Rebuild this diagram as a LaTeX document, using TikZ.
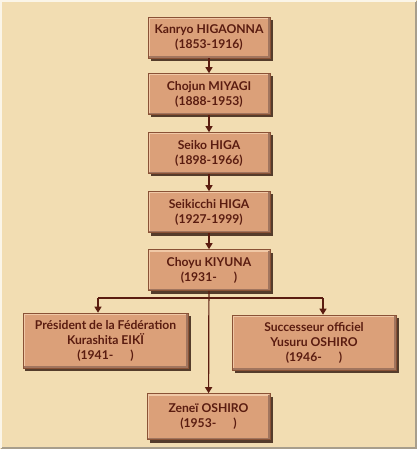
\documentclass[tikz,border=0pt]{standalone}
\usepackage{fontspec}
\setmainfont{Lato}
\usetikzlibrary{shadows,arrows.meta}
\definecolor{fondpapier}{HTML}{F2DDB2}
\definecolor{cadregris}{HTML}{A89E8C}
\definecolor{boxfill}{HTML}{DBA079}
\definecolor{boxlight}{HTML}{F0C8A6}
\definecolor{boxdark}{HTML}{8A5236}
\definecolor{inkbrown}{HTML}{5A1C10}
\definecolor{shadowbrown}{HTML}{3A2014}

\tikzset{
  maitre/.style={rectangle, fill=boxfill, draw=boxdark, line width=0.6bp,
    minimum width=122bp, minimum height=41bp, inner sep=2bp, align=center,
    text=inkbrown, font=\bfseries\fontsize{12.2}{15}\selectfont,
    drop shadow={shadow xshift=2.5bp, shadow yshift=-3bp, fill=shadowbrown, opacity=0.85},
    path picture={
      \draw[boxlight, line width=2bp]
        ([xshift=1bp,yshift=1bp]path picture bounding box.south west)
        |- ([xshift=-1bp,yshift=-1bp]path picture bounding box.north east);
      \draw[boxdark!80, line width=1.5bp]
        ([xshift=1bp,yshift=1bp]path picture bounding box.south west)
        -| ([xshift=-1bp,yshift=-1bp]path picture bounding box.north east);
    }},
  filiation/.style={draw=inkbrown, line width=1.2bp, -{Triangle[length=6bp,width=7bp]}},
  trait/.style={draw=inkbrown, line width=1.2bp}
}

\begin{document}
\begin{tikzpicture}[x=1bp, y=-1bp]
  % Fond
  \useasboundingbox (0,0) rectangle (417,449);
  \fill[fondpapier] (0,0) rectangle (417,449);
  \draw[cadregris, line width=2bp] (1,448) -- (416,448) -- (416,1);
  \draw[white!70!fondpapier, line width=1.5bp] (1,448) -- (1,1) -- (416,1);

  % Lignee principale
  \node[maitre] (higaonna) at (209,37.5) {Kanryo HIGAONNA\\(1853-1916)};
  \node[maitre] (miyagi) at (209,94) {Chojun MIYAGI\\(1888-1953)};
  \node[maitre] (seiko) at (209,153) {Seiko HIGA\\(1898-1966)};
  \node[maitre] (seikicchi) at (209,212) {Seikicchi HIGA\\(1927-1999)};
  \node[maitre] (kiyuna) at (209,270) {Choyu KIYUNA\\(1931-\hspace{1.4em})};

  % Successeurs
  \node[maitre, minimum width=165bp, minimum height=55bp] (eiki) at (105.5,340.5)
    {Président de la Fédération\\Kurashita EIKÏ\\(1941-\hspace{1.4em})};
  \node[maitre, minimum width=164bp, minimum height=55bp] (yusuru) at (314,342.5)
    {Successeur officiel\\Yusuru OSHIRO\\(1946-\hspace{1.4em})};
  \node[maitre, minimum width=123bp, minimum height=46bp] (zenei) at (208.5,416.5)
    {Zeneï OSHIRO\\(1953-\hspace{1.4em})};

  % Fleches
  \draw[filiation] (higaonna) -- (miyagi);
  \draw[filiation] (miyagi) -- (seiko);
  \draw[filiation] (seikicchi.north |- seiko.south) -- (seikicchi);
  \draw[filiation] (seikicchi) -- (kiyuna);
  \draw[filiation] (kiyuna) -- (zenei);

  % Branches
  \coordinate (brancheG) at (98,298);
  \coordinate (brancheD) at (323,298);
  \draw[trait] (brancheG) -- (brancheD);
  \draw[filiation] (brancheG) -- (brancheG |- eiki.north);
  \draw[filiation] (brancheD) -- (brancheD |- yusuru.north);
\end{tikzpicture}
\end{document}
